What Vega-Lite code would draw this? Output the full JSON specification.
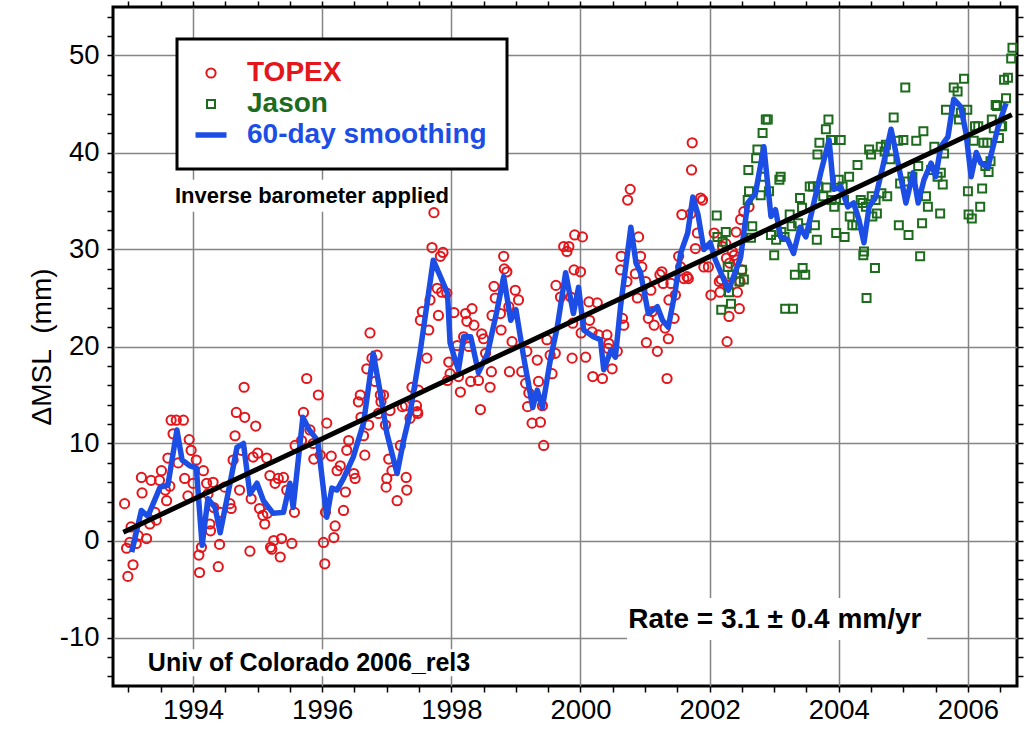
{
"$schema": "https://vega.github.io/schema/vega-lite/v6.json",
"width": 904, "height": 679,
"autosize": "none",
"padding": {"left": 113, "top": 7, "right": 7, "bottom": 56},
"background": "white",
"config": {
  "font": "Liberation Sans",
  "view": {"stroke": "black", "strokeWidth": 3},
  "legend": {"orient": "none", "legendX": 64, "legendY": 32, "padding": 20, "strokeColor": "black", "fillColor": "white", "strokeWidth": 3, "symbolSize": 961, "symbolStrokeWidth": 2, "labelFontSize": 28, "labelFontWeight": "bold", "labelOffset": 22, "rowPadding": 3, "labelLimit": 400}
},
"datasets": {
  "pts": [
{"s":"TOPEX","t":1992.94,"v":3.8},{"s":"TOPEX","t":1992.97,"v":-0.8},{"s":"TOPEX","t":1992.99,"v":-3.7},{"s":"TOPEX","t":1993.02,"v":-0.2},{"s":"TOPEX","t":1993.04,"v":1.4},{"s":"TOPEX","t":1993.07,"v":-2.5},{"s":"TOPEX","t":1993.12,"v":-0.3},{"s":"TOPEX","t":1993.15,"v":0.5},{"s":"TOPEX","t":1993.2,"v":6.5},{"s":"TOPEX","t":1993.21,"v":4.9},{"s":"TOPEX","t":1993.28,"v":0.2},{"s":"TOPEX","t":1993.33,"v":1.7},{"s":"TOPEX","t":1993.35,"v":6.2},{"s":"TOPEX","t":1993.41,"v":2.9},{"s":"TOPEX","t":1993.43,"v":2.1},{"s":"TOPEX","t":1993.48,"v":6.2},{"s":"TOPEX","t":1993.51,"v":7.2},{"s":"TOPEX","t":1993.59,"v":4.1},{"s":"TOPEX","t":1993.57,"v":5.2},{"s":"TOPEX","t":1993.61,"v":8.5},{"s":"TOPEX","t":1993.64,"v":5.6},{"s":"TOPEX","t":1993.66,"v":12.4},{"s":"TOPEX","t":1993.69,"v":11.0},{"s":"TOPEX","t":1993.74,"v":12.4},{"s":"TOPEX","t":1993.77,"v":8.0},{"s":"TOPEX","t":1993.85,"v":12.4},{"s":"TOPEX","t":1993.87,"v":6.4},{"s":"TOPEX","t":1993.92,"v":4.6},{"s":"TOPEX","t":1993.94,"v":10.4},{"s":"TOPEX","t":1993.97,"v":9.3},{"s":"TOPEX","t":1994.0,"v":5.9},{"s":"TOPEX","t":1994.05,"v":8.3},{"s":"TOPEX","t":1994.09,"v":-1.5},{"s":"TOPEX","t":1994.1,"v":-3.3},{"s":"TOPEX","t":1994.13,"v":-0.7},{"s":"TOPEX","t":1994.16,"v":7.2},{"s":"TOPEX","t":1994.21,"v":5.9},{"s":"TOPEX","t":1994.23,"v":4.8},{"s":"TOPEX","t":1994.26,"v":1.7},{"s":"TOPEX","t":1994.27,"v":1.0},{"s":"TOPEX","t":1994.31,"v":6.0},{"s":"TOPEX","t":1994.32,"v":3.4},{"s":"TOPEX","t":1994.39,"v":-2.7},{"s":"TOPEX","t":1994.41,"v":-0.4},{"s":"TOPEX","t":1994.42,"v":2.9},{"s":"TOPEX","t":1994.49,"v":5.5},{"s":"TOPEX","t":1994.57,"v":3.8},{"s":"TOPEX","t":1994.59,"v":3.3},{"s":"TOPEX","t":1994.62,"v":8.3},{"s":"TOPEX","t":1994.65,"v":10.8},{"s":"TOPEX","t":1994.67,"v":13.2},{"s":"TOPEX","t":1994.72,"v":5.2},{"s":"TOPEX","t":1994.75,"v":9.3},{"s":"TOPEX","t":1994.79,"v":15.8},{"s":"TOPEX","t":1994.8,"v":12.7},{"s":"TOPEX","t":1994.88,"v":-1.1},{"s":"TOPEX","t":1994.9,"v":4.3},{"s":"TOPEX","t":1994.93,"v":8.6},{"s":"TOPEX","t":1994.97,"v":11.8},{"s":"TOPEX","t":1995.0,"v":9.0},{"s":"TOPEX","t":1995.03,"v":3.3},{"s":"TOPEX","t":1995.08,"v":2.6},{"s":"TOPEX","t":1995.11,"v":1.7},{"s":"TOPEX","t":1995.14,"v":8.5},{"s":"TOPEX","t":1995.15,"v":2.8},{"s":"TOPEX","t":1995.19,"v":6.7},{"s":"TOPEX","t":1995.2,"v":-0.7},{"s":"TOPEX","t":1995.22,"v":-0.9},{"s":"TOPEX","t":1995.25,"v":0.0},{"s":"TOPEX","t":1995.27,"v":5.9},{"s":"TOPEX","t":1995.32,"v":6.4},{"s":"TOPEX","t":1995.35,"v":-1.7},{"s":"TOPEX","t":1995.37,"v":0.2},{"s":"TOPEX","t":1995.4,"v":6.5},{"s":"TOPEX","t":1995.45,"v":5.2},{"s":"TOPEX","t":1995.53,"v":-0.3},{"s":"TOPEX","t":1995.57,"v":2.9},{"s":"TOPEX","t":1995.58,"v":9.8},{"s":"TOPEX","t":1995.68,"v":10.3},{"s":"TOPEX","t":1995.71,"v":13.2},{"s":"TOPEX","t":1995.76,"v":16.7},{"s":"TOPEX","t":1995.81,"v":11.4},{"s":"TOPEX","t":1995.86,"v":10.0},{"s":"TOPEX","t":1995.87,"v":8.4},{"s":"TOPEX","t":1995.94,"v":15.0},{"s":"TOPEX","t":1995.97,"v":8.8},{"s":"TOPEX","t":1996.02,"v":-0.2},{"s":"TOPEX","t":1996.04,"v":-2.4},{"s":"TOPEX","t":1996.05,"v":2.9},{"s":"TOPEX","t":1996.07,"v":12.1},{"s":"TOPEX","t":1996.14,"v":8.7},{"s":"TOPEX","t":1996.18,"v":0.3},{"s":"TOPEX","t":1996.2,"v":1.5},{"s":"TOPEX","t":1996.23,"v":7.2},{"s":"TOPEX","t":1996.28,"v":7.7},{"s":"TOPEX","t":1996.33,"v":3.1},{"s":"TOPEX","t":1996.36,"v":5.0},{"s":"TOPEX","t":1996.38,"v":9.3},{"s":"TOPEX","t":1996.41,"v":10.3},{"s":"TOPEX","t":1996.49,"v":6.9},{"s":"TOPEX","t":1996.51,"v":6.4},{"s":"TOPEX","t":1996.56,"v":14.3},{"s":"TOPEX","t":1996.59,"v":15.0},{"s":"TOPEX","t":1996.6,"v":12.7},{"s":"TOPEX","t":1996.64,"v":10.8},{"s":"TOPEX","t":1996.66,"v":8.8},{"s":"TOPEX","t":1996.69,"v":17.7},{"s":"TOPEX","t":1996.72,"v":11.9},{"s":"TOPEX","t":1996.74,"v":21.4},{"s":"TOPEX","t":1996.77,"v":18.8},{"s":"TOPEX","t":1996.82,"v":16.4},{"s":"TOPEX","t":1996.85,"v":19.1},{"s":"TOPEX","t":1996.87,"v":13.1},{"s":"TOPEX","t":1996.9,"v":15.0},{"s":"TOPEX","t":1996.91,"v":14.3},{"s":"TOPEX","t":1996.95,"v":15.0},{"s":"TOPEX","t":1996.98,"v":11.9},{"s":"TOPEX","t":1996.99,"v":5.5},{"s":"TOPEX","t":1997.0,"v":6.4},{"s":"TOPEX","t":1997.03,"v":8.4},{"s":"TOPEX","t":1997.05,"v":13.4},{"s":"TOPEX","t":1997.08,"v":7.2},{"s":"TOPEX","t":1997.16,"v":4.1},{"s":"TOPEX","t":1997.21,"v":9.8},{"s":"TOPEX","t":1997.24,"v":13.8},{"s":"TOPEX","t":1997.29,"v":13.9},{"s":"TOPEX","t":1997.3,"v":6.5},{"s":"TOPEX","t":1997.31,"v":5.2},{"s":"TOPEX","t":1997.36,"v":12.6},{"s":"TOPEX","t":1997.39,"v":15.8},{"s":"TOPEX","t":1997.46,"v":13.9},{"s":"TOPEX","t":1997.47,"v":13.3},{"s":"TOPEX","t":1997.48,"v":13.1},{"s":"TOPEX","t":1997.49,"v":15.5},{"s":"TOPEX","t":1997.52,"v":22.7},{"s":"TOPEX","t":1997.55,"v":23.6},{"s":"TOPEX","t":1997.62,"v":18.8},{"s":"TOPEX","t":1997.65,"v":21.7},{"s":"TOPEX","t":1997.67,"v":24.8},{"s":"TOPEX","t":1997.7,"v":30.2},{"s":"TOPEX","t":1997.73,"v":33.8},{"s":"TOPEX","t":1997.78,"v":26.0},{"s":"TOPEX","t":1997.8,"v":23.2},{"s":"TOPEX","t":1997.83,"v":29.3},{"s":"TOPEX","t":1997.85,"v":25.6},{"s":"TOPEX","t":1997.87,"v":29.7},{"s":"TOPEX","t":1997.93,"v":25.5},{"s":"TOPEX","t":1997.94,"v":16.5},{"s":"TOPEX","t":1997.96,"v":18.4},{"s":"TOPEX","t":1997.98,"v":17.2},{"s":"TOPEX","t":1998.04,"v":23.5},{"s":"TOPEX","t":1998.09,"v":20.1},{"s":"TOPEX","t":1998.11,"v":16.9},{"s":"TOPEX","t":1998.14,"v":15.3},{"s":"TOPEX","t":1998.19,"v":21.0},{"s":"TOPEX","t":1998.22,"v":23.4},{"s":"TOPEX","t":1998.24,"v":22.6},{"s":"TOPEX","t":1998.27,"v":20.0},{"s":"TOPEX","t":1998.3,"v":16.4},{"s":"TOPEX","t":1998.32,"v":23.9},{"s":"TOPEX","t":1998.35,"v":22.2},{"s":"TOPEX","t":1998.42,"v":16.5},{"s":"TOPEX","t":1998.45,"v":13.5},{"s":"TOPEX","t":1998.47,"v":21.3},{"s":"TOPEX","t":1998.5,"v":20.8},{"s":"TOPEX","t":1998.53,"v":19.3},{"s":"TOPEX","t":1998.6,"v":15.8},{"s":"TOPEX","t":1998.62,"v":17.4},{"s":"TOPEX","t":1998.63,"v":23.2},{"s":"TOPEX","t":1998.66,"v":26.2},{"s":"TOPEX","t":1998.68,"v":25.0},{"s":"TOPEX","t":1998.76,"v":23.4},{"s":"TOPEX","t":1998.77,"v":21.7},{"s":"TOPEX","t":1998.81,"v":29.3},{"s":"TOPEX","t":1998.82,"v":28.0},{"s":"TOPEX","t":1998.86,"v":27.7},{"s":"TOPEX","t":1998.89,"v":24.1},{"s":"TOPEX","t":1998.9,"v":17.4},{"s":"TOPEX","t":1998.94,"v":20.5},{"s":"TOPEX","t":1998.99,"v":25.8},{"s":"TOPEX","t":1999.04,"v":24.8},{"s":"TOPEX","t":1999.09,"v":17.4},{"s":"TOPEX","t":1999.15,"v":16.2},{"s":"TOPEX","t":1999.17,"v":19.5},{"s":"TOPEX","t":1999.18,"v":13.8},{"s":"TOPEX","t":1999.2,"v":15.2},{"s":"TOPEX","t":1999.25,"v":12.1},{"s":"TOPEX","t":1999.33,"v":18.6},{"s":"TOPEX","t":1999.35,"v":16.4},{"s":"TOPEX","t":1999.38,"v":12.2},{"s":"TOPEX","t":1999.41,"v":13.9},{"s":"TOPEX","t":1999.43,"v":9.8},{"s":"TOPEX","t":1999.48,"v":20.7},{"s":"TOPEX","t":1999.53,"v":19.1},{"s":"TOPEX","t":1999.56,"v":17.2},{"s":"TOPEX","t":1999.61,"v":19.3},{"s":"TOPEX","t":1999.62,"v":26.3},{"s":"TOPEX","t":1999.69,"v":25.1},{"s":"TOPEX","t":1999.74,"v":30.3},{"s":"TOPEX","t":1999.79,"v":29.8},{"s":"TOPEX","t":1999.82,"v":30.3},{"s":"TOPEX","t":1999.85,"v":25.1},{"s":"TOPEX","t":1999.87,"v":18.8},{"s":"TOPEX","t":1999.88,"v":22.4},{"s":"TOPEX","t":1999.9,"v":27.9},{"s":"TOPEX","t":1999.91,"v":31.5},{"s":"TOPEX","t":2000.0,"v":27.7},{"s":"TOPEX","t":2000.01,"v":21.4},{"s":"TOPEX","t":2000.03,"v":31.3},{"s":"TOPEX","t":2000.08,"v":18.9},{"s":"TOPEX","t":2000.13,"v":24.6},{"s":"TOPEX","t":2000.14,"v":22.7},{"s":"TOPEX","t":2000.18,"v":21.5},{"s":"TOPEX","t":2000.19,"v":16.9},{"s":"TOPEX","t":2000.26,"v":24.5},{"s":"TOPEX","t":2000.28,"v":21.2},{"s":"TOPEX","t":2000.34,"v":16.7},{"s":"TOPEX","t":2000.41,"v":21.2},{"s":"TOPEX","t":2000.43,"v":19.8},{"s":"TOPEX","t":2000.44,"v":20.3},{"s":"TOPEX","t":2000.49,"v":17.7},{"s":"TOPEX","t":2000.57,"v":19.5},{"s":"TOPEX","t":2000.62,"v":27.9},{"s":"TOPEX","t":2000.63,"v":29.3},{"s":"TOPEX","t":2000.65,"v":22.9},{"s":"TOPEX","t":2000.67,"v":22.2},{"s":"TOPEX","t":2000.72,"v":26.7},{"s":"TOPEX","t":2000.73,"v":35.1},{"s":"TOPEX","t":2000.77,"v":36.2},{"s":"TOPEX","t":2000.85,"v":27.5},{"s":"TOPEX","t":2000.88,"v":25.0},{"s":"TOPEX","t":2000.9,"v":31.3},{"s":"TOPEX","t":2000.93,"v":29.3},{"s":"TOPEX","t":2000.95,"v":28.2},{"s":"TOPEX","t":2001.01,"v":26.7},{"s":"TOPEX","t":2001.02,"v":20.4},{"s":"TOPEX","t":2001.05,"v":22.9},{"s":"TOPEX","t":2001.09,"v":25.8},{"s":"TOPEX","t":2001.11,"v":23.6},{"s":"TOPEX","t":2001.14,"v":22.2},{"s":"TOPEX","t":2001.19,"v":19.5},{"s":"TOPEX","t":2001.23,"v":27.4},{"s":"TOPEX","t":2001.26,"v":27.7},{"s":"TOPEX","t":2001.28,"v":26.5},{"s":"TOPEX","t":2001.31,"v":21.9},{"s":"TOPEX","t":2001.34,"v":16.7},{"s":"TOPEX","t":2001.36,"v":20.8},{"s":"TOPEX","t":2001.37,"v":24.8},{"s":"TOPEX","t":2001.4,"v":26.5},{"s":"TOPEX","t":2001.45,"v":22.9},{"s":"TOPEX","t":2001.47,"v":25.3},{"s":"TOPEX","t":2001.52,"v":29.3},{"s":"TOPEX","t":2001.55,"v":28.2},{"s":"TOPEX","t":2001.57,"v":33.6},{"s":"TOPEX","t":2001.6,"v":27.0},{"s":"TOPEX","t":2001.65,"v":27.2},{"s":"TOPEX","t":2001.67,"v":27.0},{"s":"TOPEX","t":2001.71,"v":33.7},{"s":"TOPEX","t":2001.72,"v":38.2},{"s":"TOPEX","t":2001.73,"v":41.0},{"s":"TOPEX","t":2001.78,"v":30.1},{"s":"TOPEX","t":2001.81,"v":31.7},{"s":"TOPEX","t":2001.86,"v":35.3},{"s":"TOPEX","t":2001.89,"v":35.1},{"s":"TOPEX","t":2001.91,"v":28.2},{"s":"TOPEX","t":2001.98,"v":28.2},{"s":"TOPEX","t":2002.02,"v":25.3},{"s":"TOPEX","t":2002.07,"v":31.7},{"s":"TOPEX","t":2002.15,"v":26.7},{"s":"TOPEX","t":2002.16,"v":25.6},{"s":"TOPEX","t":2002.18,"v":26.9},{"s":"TOPEX","t":2002.2,"v":30.3},{"s":"TOPEX","t":2002.25,"v":30.6},{"s":"TOPEX","t":2002.26,"v":29.1},{"s":"TOPEX","t":2002.27,"v":20.5},{"s":"TOPEX","t":2002.28,"v":26.3},{"s":"TOPEX","t":2002.3,"v":23.1},{"s":"TOPEX","t":2002.31,"v":28.6},{"s":"TOPEX","t":2002.35,"v":29.8},{"s":"TOPEX","t":2002.38,"v":29.4},{"s":"TOPEX","t":2002.41,"v":31.8},{"s":"TOPEX","t":2002.42,"v":28.9},{"s":"TOPEX","t":2002.43,"v":25.6},{"s":"TOPEX","t":2002.46,"v":23.9},{"s":"TOPEX","t":2002.47,"v":26.7},{"s":"TOPEX","t":2002.48,"v":33.1},{"s":"TOPEX","t":2002.5,"v":27.9},{"s":"TOPEX","t":2002.53,"v":33.9},{"s":"TOPEX","t":2002.61,"v":34.4},
{"s":"Jason","t":2002.11,"v":33.5},{"s":"Jason","t":2002.12,"v":31.3},{"s":"Jason","t":2002.18,"v":23.8},{"s":"Jason","t":2002.2,"v":30.8},{"s":"Jason","t":2002.25,"v":31.8},{"s":"Jason","t":2002.28,"v":28.2},{"s":"Jason","t":2002.3,"v":25.6},{"s":"Jason","t":2002.33,"v":24.4},{"s":"Jason","t":2002.35,"v":27.4},{"s":"Jason","t":2002.46,"v":26.7},{"s":"Jason","t":2002.5,"v":27.9},{"s":"Jason","t":2002.53,"v":26.9},{"s":"Jason","t":2002.59,"v":35.1},{"s":"Jason","t":2002.6,"v":38.2},{"s":"Jason","t":2002.61,"v":36.0},{"s":"Jason","t":2002.64,"v":31.2},{"s":"Jason","t":2002.66,"v":32.4},{"s":"Jason","t":2002.72,"v":39.4},{"s":"Jason","t":2002.74,"v":40.3},{"s":"Jason","t":2002.79,"v":35.6},{"s":"Jason","t":2002.82,"v":42.0},{"s":"Jason","t":2002.84,"v":37.5},{"s":"Jason","t":2002.87,"v":43.4},{"s":"Jason","t":2002.9,"v":43.4},{"s":"Jason","t":2002.92,"v":36.0},{"s":"Jason","t":2002.95,"v":31.5},{"s":"Jason","t":2003.0,"v":29.4},{"s":"Jason","t":2003.03,"v":31.0},{"s":"Jason","t":2003.08,"v":37.2},{"s":"Jason","t":2003.1,"v":37.5},{"s":"Jason","t":2003.11,"v":31.8},{"s":"Jason","t":2003.16,"v":31.3},{"s":"Jason","t":2003.17,"v":23.9},{"s":"Jason","t":2003.24,"v":33.6},{"s":"Jason","t":2003.27,"v":32.4},{"s":"Jason","t":2003.29,"v":23.9},{"s":"Jason","t":2003.32,"v":27.4},{"s":"Jason","t":2003.37,"v":32.7},{"s":"Jason","t":2003.4,"v":35.3},{"s":"Jason","t":2003.43,"v":34.3},{"s":"Jason","t":2003.44,"v":28.1},{"s":"Jason","t":2003.48,"v":27.4},{"s":"Jason","t":2003.5,"v":32.2},{"s":"Jason","t":2003.55,"v":36.5},{"s":"Jason","t":2003.6,"v":36.5},{"s":"Jason","t":2003.63,"v":32.5},{"s":"Jason","t":2003.66,"v":31.0},{"s":"Jason","t":2003.67,"v":39.8},{"s":"Jason","t":2003.68,"v":36.5},{"s":"Jason","t":2003.7,"v":41.0},{"s":"Jason","t":2003.76,"v":35.5},{"s":"Jason","t":2003.8,"v":42.4},{"s":"Jason","t":2003.81,"v":36.4},{"s":"Jason","t":2003.84,"v":43.4},{"s":"Jason","t":2003.88,"v":41.3},{"s":"Jason","t":2003.89,"v":35.1},{"s":"Jason","t":2003.93,"v":34.4},{"s":"Jason","t":2003.96,"v":31.7},{"s":"Jason","t":2004.0,"v":37.2},{"s":"Jason","t":2004.03,"v":41.3},{"s":"Jason","t":2004.06,"v":36.5},{"s":"Jason","t":2004.08,"v":35.1},{"s":"Jason","t":2004.09,"v":31.3},{"s":"Jason","t":2004.16,"v":37.5},{"s":"Jason","t":2004.17,"v":33.4},{"s":"Jason","t":2004.21,"v":32.5},{"s":"Jason","t":2004.27,"v":32.5},{"s":"Jason","t":2004.29,"v":38.7},{"s":"Jason","t":2004.34,"v":35.1},{"s":"Jason","t":2004.37,"v":34.8},{"s":"Jason","t":2004.38,"v":29.4},{"s":"Jason","t":2004.39,"v":29.8},{"s":"Jason","t":2004.42,"v":34.4},{"s":"Jason","t":2004.43,"v":25.0},{"s":"Jason","t":2004.47,"v":40.3},{"s":"Jason","t":2004.5,"v":39.8},{"s":"Jason","t":2004.51,"v":35.5},{"s":"Jason","t":2004.52,"v":33.4},{"s":"Jason","t":2004.56,"v":28.1},{"s":"Jason","t":2004.57,"v":35.1},{"s":"Jason","t":2004.59,"v":33.7},{"s":"Jason","t":2004.65,"v":40.6},{"s":"Jason","t":2004.66,"v":35.8},{"s":"Jason","t":2004.71,"v":40.1},{"s":"Jason","t":2004.73,"v":40.8},{"s":"Jason","t":2004.75,"v":35.5},{"s":"Jason","t":2004.8,"v":39.3},{"s":"Jason","t":2004.85,"v":43.6},{"s":"Jason","t":2004.92,"v":41.2},{"s":"Jason","t":2004.93,"v":32.5},{"s":"Jason","t":2004.95,"v":36.8},{"s":"Jason","t":2005.0,"v":41.3},{"s":"Jason","t":2005.03,"v":46.7},{"s":"Jason","t":2005.04,"v":37.0},{"s":"Jason","t":2005.08,"v":31.5},{"s":"Jason","t":2005.14,"v":37.5},{"s":"Jason","t":2005.2,"v":41.2},{"s":"Jason","t":2005.23,"v":38.6},{"s":"Jason","t":2005.26,"v":29.3},{"s":"Jason","t":2005.29,"v":32.7},{"s":"Jason","t":2005.31,"v":42.2},{"s":"Jason","t":2005.35,"v":35.5},{"s":"Jason","t":2005.38,"v":34.4},{"s":"Jason","t":2005.43,"v":38.2},{"s":"Jason","t":2005.48,"v":40.6},{"s":"Jason","t":2005.53,"v":37.5},{"s":"Jason","t":2005.57,"v":33.7},{"s":"Jason","t":2005.58,"v":37.9},{"s":"Jason","t":2005.61,"v":36.7},{"s":"Jason","t":2005.63,"v":39.9},{"s":"Jason","t":2005.66,"v":44.4},{"s":"Jason","t":2005.78,"v":46.7},{"s":"Jason","t":2005.84,"v":46.3},{"s":"Jason","t":2005.86,"v":43.4},{"s":"Jason","t":2005.89,"v":44.1},{"s":"Jason","t":2005.94,"v":47.6},{"s":"Jason","t":2005.99,"v":44.4},{"s":"Jason","t":2006.0,"v":36.0},{"s":"Jason","t":2006.01,"v":33.6},{"s":"Jason","t":2006.06,"v":33.2},{"s":"Jason","t":2006.09,"v":41.2},{"s":"Jason","t":2006.11,"v":42.7},{"s":"Jason","t":2006.16,"v":42.7},{"s":"Jason","t":2006.19,"v":34.4},{"s":"Jason","t":2006.22,"v":36.3},{"s":"Jason","t":2006.24,"v":41.0},{"s":"Jason","t":2006.27,"v":38.6},{"s":"Jason","t":2006.3,"v":41.0},{"s":"Jason","t":2006.32,"v":38.0},{"s":"Jason","t":2006.35,"v":39.1},{"s":"Jason","t":2006.37,"v":43.4},{"s":"Jason","t":2006.4,"v":42.5},{"s":"Jason","t":2006.43,"v":44.9},{"s":"Jason","t":2006.45,"v":44.8},{"s":"Jason","t":2006.48,"v":41.5},{"s":"Jason","t":2006.51,"v":42.7},{"s":"Jason","t":2006.53,"v":42.7},{"s":"Jason","t":2006.56,"v":47.5},{"s":"Jason","t":2006.59,"v":45.6},{"s":"Jason","t":2006.62,"v":47.7},{"s":"Jason","t":2006.67,"v":49.7},{"s":"Jason","t":2006.69,"v":50.8}
  ],
  "smooth": [
{"s":"60-day smoothing","t":1993.05,"v":-1.2},{"s":"60-day smoothing","t":1993.2,"v":3.1},{"s":"60-day smoothing","t":1993.3,"v":2.5},{"s":"60-day smoothing","t":1993.49,"v":5.5},{"s":"60-day smoothing","t":1993.61,"v":5.7},{"s":"60-day smoothing","t":1993.75,"v":11.4},{"s":"60-day smoothing","t":1993.83,"v":8.3},{"s":"60-day smoothing","t":1993.95,"v":7.7},{"s":"60-day smoothing","t":1994.05,"v":7.5},{"s":"60-day smoothing","t":1994.14,"v":-0.5},{"s":"60-day smoothing","t":1994.23,"v":4.3},{"s":"60-day smoothing","t":1994.34,"v":3.4},{"s":"60-day smoothing","t":1994.42,"v":0.8},{"s":"60-day smoothing","t":1994.54,"v":4.8},{"s":"60-day smoothing","t":1994.68,"v":9.6},{"s":"60-day smoothing","t":1994.78,"v":10.0},{"s":"60-day smoothing","t":1994.88,"v":4.8},{"s":"60-day smoothing","t":1994.99,"v":5.9},{"s":"60-day smoothing","t":1995.09,"v":4.1},{"s":"60-day smoothing","t":1995.24,"v":2.8},{"s":"60-day smoothing","t":1995.4,"v":2.9},{"s":"60-day smoothing","t":1995.5,"v":5.9},{"s":"60-day smoothing","t":1995.55,"v":3.4},{"s":"60-day smoothing","t":1995.7,"v":12.7},{"s":"60-day smoothing","t":1995.8,"v":11.4},{"s":"60-day smoothing","t":1995.93,"v":10.3},{"s":"60-day smoothing","t":1996.07,"v":2.4},{"s":"60-day smoothing","t":1996.15,"v":5.4},{"s":"60-day smoothing","t":1996.23,"v":5.2},{"s":"60-day smoothing","t":1996.33,"v":6.4},{"s":"60-day smoothing","t":1996.48,"v":8.6},{"s":"60-day smoothing","t":1996.64,"v":12.1},{"s":"60-day smoothing","t":1996.79,"v":19.3},{"s":"60-day smoothing","t":1996.9,"v":15.2},{"s":"60-day smoothing","t":1997.0,"v":11.1},{"s":"60-day smoothing","t":1997.16,"v":6.9},{"s":"60-day smoothing","t":1997.26,"v":10.3},{"s":"60-day smoothing","t":1997.36,"v":13.1},{"s":"60-day smoothing","t":1997.52,"v":19.6},{"s":"60-day smoothing","t":1997.72,"v":28.9},{"s":"60-day smoothing","t":1997.83,"v":27.2},{"s":"60-day smoothing","t":1997.94,"v":25.5},{"s":"60-day smoothing","t":1997.98,"v":20.4},{"s":"60-day smoothing","t":1998.06,"v":18.6},{"s":"60-day smoothing","t":1998.11,"v":17.6},{"s":"60-day smoothing","t":1998.19,"v":21.0},{"s":"60-day smoothing","t":1998.3,"v":21.0},{"s":"60-day smoothing","t":1998.42,"v":17.3},{"s":"60-day smoothing","t":1998.56,"v":19.3},{"s":"60-day smoothing","t":1998.71,"v":23.8},{"s":"60-day smoothing","t":1998.81,"v":27.2},{"s":"60-day smoothing","t":1998.92,"v":22.7},{"s":"60-day smoothing","t":1999.0,"v":23.8},{"s":"60-day smoothing","t":1999.12,"v":18.9},{"s":"60-day smoothing","t":1999.26,"v":13.7},{"s":"60-day smoothing","t":1999.33,"v":15.5},{"s":"60-day smoothing","t":1999.41,"v":13.7},{"s":"60-day smoothing","t":1999.54,"v":18.9},{"s":"60-day smoothing","t":1999.64,"v":22.0},{"s":"60-day smoothing","t":1999.77,"v":27.6},{"s":"60-day smoothing","t":1999.89,"v":23.4},{"s":"60-day smoothing","t":1999.97,"v":26.1},{"s":"60-day smoothing","t":2000.05,"v":21.7},{"s":"60-day smoothing","t":2000.2,"v":21.0},{"s":"60-day smoothing","t":2000.31,"v":20.7},{"s":"60-day smoothing","t":2000.36,"v":17.6},{"s":"60-day smoothing","t":2000.47,"v":19.6},{"s":"60-day smoothing","t":2000.54,"v":18.9},{"s":"60-day smoothing","t":2000.62,"v":24.1},{"s":"60-day smoothing","t":2000.78,"v":32.3},{"s":"60-day smoothing","t":2000.86,"v":28.6},{"s":"60-day smoothing","t":2000.93,"v":27.6},{"s":"60-day smoothing","t":2001.05,"v":23.4},{"s":"60-day smoothing","t":2001.19,"v":24.1},{"s":"60-day smoothing","t":2001.27,"v":22.7},{"s":"60-day smoothing","t":2001.36,"v":22.0},{"s":"60-day smoothing","t":2001.47,"v":25.8},{"s":"60-day smoothing","t":2001.55,"v":29.6},{"s":"60-day smoothing","t":2001.66,"v":31.7},{"s":"60-day smoothing","t":2001.74,"v":35.4},{"s":"60-day smoothing","t":2001.82,"v":33.6},{"s":"60-day smoothing","t":2001.91,"v":30.0},{"s":"60-day smoothing","t":2002.01,"v":30.7},{"s":"60-day smoothing","t":2002.09,"v":28.9},{"s":"60-day smoothing","t":2002.2,"v":27.2},{"s":"60-day smoothing","t":2002.29,"v":25.8},{"s":"60-day smoothing","t":2002.37,"v":27.2},{"s":"60-day smoothing","t":2002.48,"v":29.2},{"s":"60-day smoothing","t":2002.59,"v":34.8},{"s":"60-day smoothing","t":2002.71,"v":35.8},{"s":"60-day smoothing","t":2002.84,"v":40.6},{"s":"60-day smoothing","t":2002.95,"v":33.4},{"s":"60-day smoothing","t":2003.02,"v":34.1},{"s":"60-day smoothing","t":2003.1,"v":31.3},{"s":"60-day smoothing","t":2003.21,"v":31.0},{"s":"60-day smoothing","t":2003.3,"v":29.6},{"s":"60-day smoothing","t":2003.4,"v":32.3},{"s":"60-day smoothing","t":2003.49,"v":31.3},{"s":"60-day smoothing","t":2003.6,"v":34.4},{"s":"60-day smoothing","t":2003.72,"v":37.9},{"s":"60-day smoothing","t":2003.85,"v":41.3},{"s":"60-day smoothing","t":2003.92,"v":36.2},{"s":"60-day smoothing","t":2004.03,"v":36.5},{"s":"60-day smoothing","t":2004.14,"v":34.4},{"s":"60-day smoothing","t":2004.23,"v":34.8},{"s":"60-day smoothing","t":2004.31,"v":33.1},{"s":"60-day smoothing","t":2004.39,"v":30.7},{"s":"60-day smoothing","t":2004.47,"v":34.4},{"s":"60-day smoothing","t":2004.57,"v":35.4},{"s":"60-day smoothing","t":2004.68,"v":38.5},{"s":"60-day smoothing","t":2004.81,"v":42.4},{"s":"60-day smoothing","t":2004.93,"v":38.5},{"s":"60-day smoothing","t":2005.04,"v":34.8},{"s":"60-day smoothing","t":2005.15,"v":37.9},{"s":"60-day smoothing","t":2005.23,"v":34.8},{"s":"60-day smoothing","t":2005.32,"v":37.2},{"s":"60-day smoothing","t":2005.43,"v":38.9},{"s":"60-day smoothing","t":2005.5,"v":37.5},{"s":"60-day smoothing","t":2005.58,"v":40.6},{"s":"60-day smoothing","t":2005.69,"v":41.6},{"s":"60-day smoothing","t":2005.78,"v":45.5},{"s":"60-day smoothing","t":2005.89,"v":44.7},{"s":"60-day smoothing","t":2005.97,"v":42.0},{"s":"60-day smoothing","t":2006.05,"v":37.5},{"s":"60-day smoothing","t":2006.13,"v":40.0},{"s":"60-day smoothing","t":2006.2,"v":38.9},{"s":"60-day smoothing","t":2006.31,"v":38.5},{"s":"60-day smoothing","t":2006.39,"v":40.6},{"s":"60-day smoothing","t":2006.47,"v":42.7},{"s":"60-day smoothing","t":2006.59,"v":45.1}
  ],
  "trend": [{"t": 1992.92, "v": 0.86}, {"t": 2006.68, "v": 43.9}]
},
"resolve": {"axis": {"x": "independent", "y": "independent"}},
"layer": [
  {
    "data": {"values": [{}]},
    "mark": {"type": "rect", "fill": "white"},
    "encoding": {
      "x": {"datum": 1993.67, "type": "quantitative", "axis": null},
      "x2": {"datum": 1997.96},
      "y": {"datum": 37.2, "type": "quantitative", "axis": null},
      "y2": {"datum": 33.9}
    }
  },
  {
    "data": {"values": [{}]},
    "mark": {"type": "rect", "fill": "white"},
    "encoding": {
      "x": {"datum": 1993.18, "type": "quantitative", "axis": null},
      "x2": {"datum": 1998.41},
      "y": {"datum": -11.2, "type": "quantitative", "axis": null},
      "y2": {"datum": -14.0}
    }
  },
  {
    "data": {"values": [{}]},
    "mark": {"type": "rect", "fill": "white"},
    "encoding": {
      "x": {"datum": 2000.72, "type": "quantitative", "axis": null},
      "x2": {"datum": 2005.37},
      "y": {"datum": -5.93, "type": "quantitative", "axis": null},
      "y2": {"datum": -10.26}
    }
  },
  {
    "data": {"name": "pts"},
    "mark": {"type": "point", "filled": false, "strokeWidth": 2, "opacity": 1},
    "encoding": {
      "x": {"field": "t", "type": "quantitative",
        "scale": {"domain": [1992.76, 2006.76], "nice": false, "zero": false},
        "axis": {"orient": "bottom", "title": null,
          "values": [1993,1993.5,1994,1994.5,1995,1995.5,1996,1996.5,1997,1997.5,1998,1998.5,1999,1999.5,2000,2000.5,2001,2001.5,2002,2002.5,2003,2003.5,2004,2004.5,2005,2005.5,2006,2006.5],
          "labelExpr": "datum.value % 2 === 0 ? '' + datum.value : ''",
          "grid": true, "gridColor": "#858585", "gridWidth": 1.5,
          "gridOpacity": {"condition": {"test": "datum.value % 2 === 0", "value": 1}, "value": 0},
          "domain": false, "ticks": true, "tickSize": 6, "tickColor": "black", "tickWidth": 1.5,
          "labelFontSize": 27.5, "labelColor": "black", "labelPadding": 4, "labelOverlap": false, "labelFlush": false}},
      "y": {"field": "v", "type": "quantitative",
        "scale": {"domain": [-15, 55], "nice": false, "zero": false},
        "axis": {"orient": "left", "title": "ΔMSL\u00a0\u00a0(mm)",
          "values": [-14,-12,-10,-8,-6,-4,-2,0,2,4,6,8,10,12,14,16,18,20,22,24,26,28,30,32,34,36,38,40,42,44,46,48,50,52,54],
          "labelExpr": "datum.value % 10 === 0 ? '' + datum.value : ''",
          "grid": true, "gridColor": "#858585", "gridWidth": 1.5,
          "gridOpacity": {"condition": {"test": "datum.value % 10 === 0", "value": 1}, "value": 0},
          "domain": false, "ticks": true, "tickSize": 6, "tickColor": "black", "tickWidth": 1.5,
          "labelFontSize": 27.5, "labelColor": "black", "labelPadding": 8, "labelOverlap": false, "labelFlush": false,
          "titleFontSize": 28, "titleFontWeight": "normal", "titleColor": "black", "titlePadding": 3}},
      "size": {"field": "s", "type": "ordinal", "scale": {"domain": ["TOPEX", "Jason"], "range": [85, 64]}, "legend": null},
      "color": {"field": "s", "type": "nominal",
        "scale": {"domain": ["TOPEX", "Jason", "60-day smoothing"], "range": ["#e3161c", "#1d6b1d", "#1c4ee6"]},
        "legend": {"title": null,
          "encode": {
            "symbols": {"update": {"size": {"signal": "datum.value === '60-day smoothing' ? 961 : (datum.value === 'TOPEX' ? 85 : 64)"}, "strokeWidth": {"signal": "datum.value === '60-day smoothing' ? 5.5 : 2"}}},
            "labels": {"update": {"fill": {"scale": "color", "field": "value"}}}}}},
      "shape": {"field": "s", "type": "nominal",
        "scale": {"domain": ["TOPEX", "Jason", "60-day smoothing"], "range": ["circle", "square", "stroke"]},
        "legend": {"title": null,
          "encode": {
            "symbols": {"update": {"size": {"signal": "datum.value === '60-day smoothing' ? 961 : (datum.value === 'TOPEX' ? 85 : 64)"}, "strokeWidth": {"signal": "datum.value === '60-day smoothing' ? 5.5 : 2"}}},
            "labels": {"update": {"fill": {"scale": "color", "field": "value"}}}}}}
    }
  },
  {
    "data": {"name": "smooth"},
    "mark": {"type": "line", "strokeWidth": 5.5, "strokeJoin": "round"},
    "encoding": {
      "x": {"field": "t", "type": "quantitative",
        "axis": {"orient": "top", "title": null, "labels": false, "grid": false, "domain": false,
          "values": [1993,1993.5,1994,1994.5,1995,1995.5,1996,1996.5,1997,1997.5,1998,1998.5,1999,1999.5,2000,2000.5,2001,2001.5,2002,2002.5,2003,2003.5,2004,2004.5,2005,2005.5,2006,2006.5],
          "tickSize": 6, "tickColor": "black", "tickWidth": 1.5}},
      "y": {"field": "v", "type": "quantitative",
        "axis": {"orient": "right", "title": null, "labels": false, "grid": false, "domain": false,
          "values": [-14,-12,-10,-8,-6,-4,-2,0,2,4,6,8,10,12,14,16,18,20,22,24,26,28,30,32,34,36,38,40,42,44,46,48,50,52,54],
          "tickSize": 6, "tickColor": "black", "tickWidth": 1.5}},
      "color": {"field": "s", "type": "nominal",
        "legend": {"title": null,
          "encode": {
            "symbols": {"update": {"size": {"signal": "datum.value === '60-day smoothing' ? 961 : (datum.value === 'TOPEX' ? 85 : 64)"}, "strokeWidth": {"signal": "datum.value === '60-day smoothing' ? 5.5 : 2"}}},
            "labels": {"update": {"fill": {"scale": "color", "field": "value"}}}}}}
    }
  },
  {
    "data": {"name": "trend"},
    "mark": {"type": "line", "color": "black", "strokeWidth": 5},
    "encoding": {
      "x": {"field": "t", "type": "quantitative", "axis": null},
      "y": {"field": "v", "type": "quantitative", "axis": null}
    }
  },
  {
    "data": {"values": [{}]},
    "mark": {"type": "text", "text": "Inverse barometer applied", "align": "left", "baseline": "middle", "fontSize": 22, "fontWeight": "bold", "color": "black"},
    "encoding": {
      "x": {"datum": 1993.72, "type": "quantitative", "axis": null},
      "y": {"datum": 35.5, "type": "quantitative", "axis": null}
    }
  },
  {
    "data": {"values": [{}]},
    "mark": {"type": "text", "text": "Univ of Colorado 2006_rel3", "align": "left", "baseline": "middle", "fontSize": 25, "fontWeight": "bold", "color": "black"},
    "encoding": {
      "x": {"datum": 1993.3, "type": "quantitative", "axis": null},
      "y": {"datum": -12.63, "type": "quantitative", "axis": null}
    }
  },
  {
    "data": {"values": [{}]},
    "mark": {"type": "text", "text": "Rate = 3.1 ± 0.4 mm/yr", "align": "left", "baseline": "middle", "fontSize": 28, "fontWeight": "bold", "color": "black"},
    "encoding": {
      "x": {"datum": 2000.74, "type": "quantitative", "axis": null},
      "y": {"datum": -8.2, "type": "quantitative", "axis": null}
    }
  }
]
}
